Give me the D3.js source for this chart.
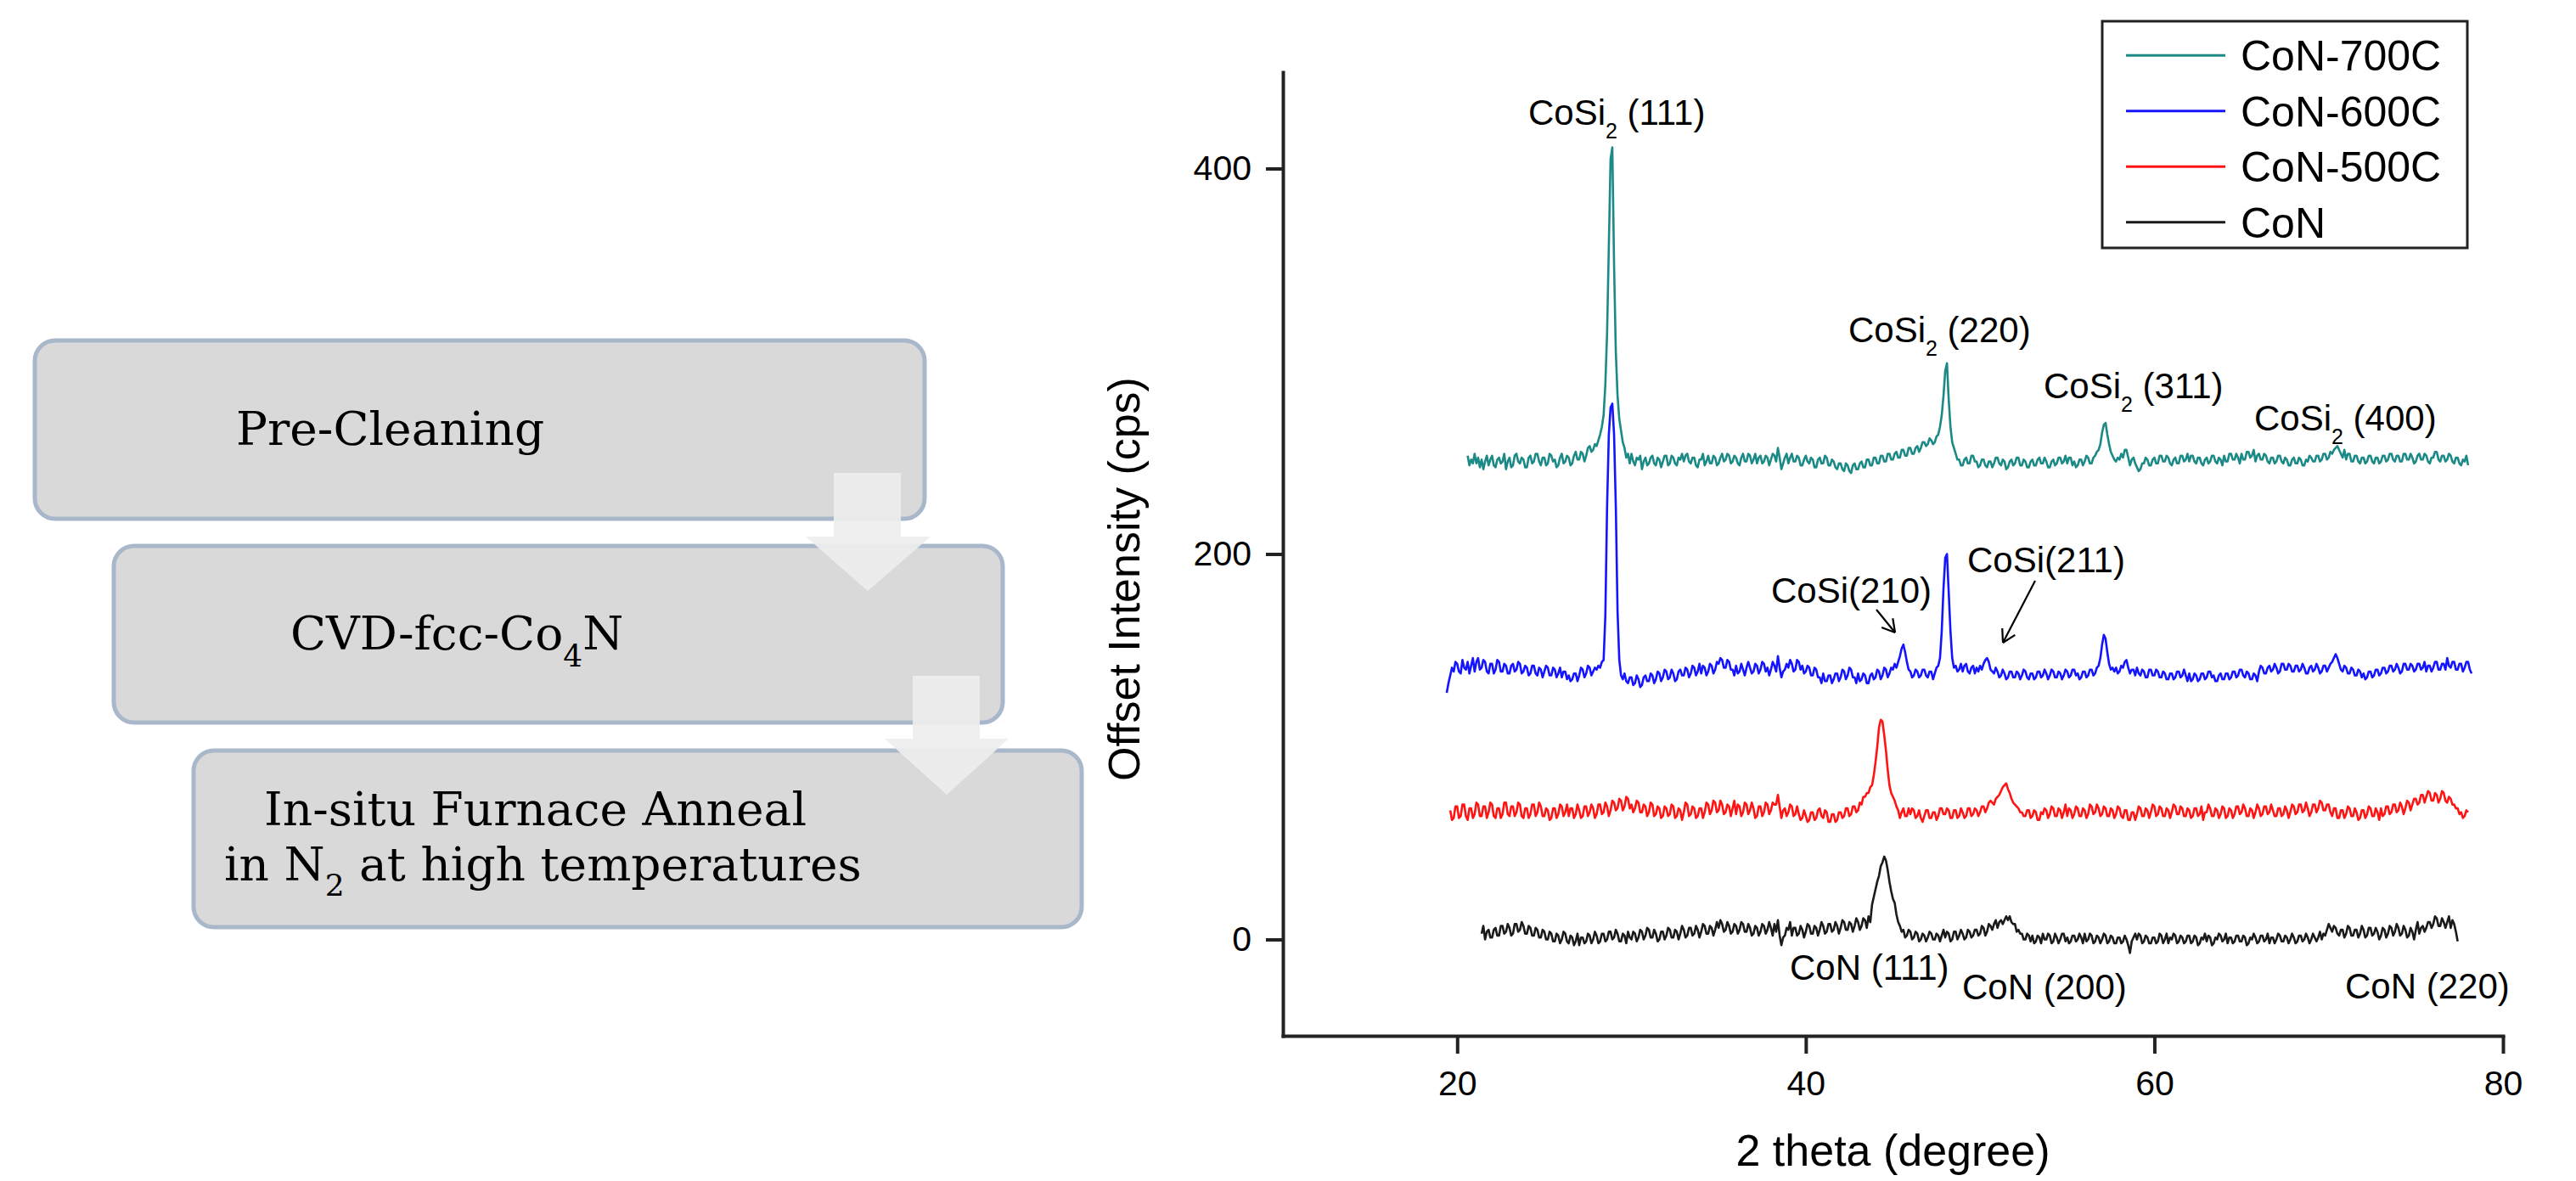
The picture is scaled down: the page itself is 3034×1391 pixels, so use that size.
<!DOCTYPE html>
<html><head><meta charset="utf-8">
<script src="https://cdn.jsdelivr.net/npm/d3@7"></script>
<style>html,body{margin:0;padding:0;background:#fff;}svg{display:block;}</style>
</head><body>
<svg id="chart" width="3034" height="1391"></svg>
<script>
// 2-theta scan grid (degree), one row per degree
const twoTheta = [
19.0,19.1,19.2,19.3,19.4,19.5,19.6,19.7,19.8,19.9,
20.0,20.1,20.2,20.3,20.4,20.5,20.6,20.7,20.8,20.9,
21.0,21.1,21.2,21.3,21.4,21.5,21.6,21.7,21.8,21.9,
22.0,22.1,22.2,22.3,22.4,22.5,22.6,22.7,22.8,22.9,
23.0,23.1,23.2,23.3,23.4,23.5,23.6,23.7,23.8,23.9,
24.0,24.1,24.2,24.3,24.4,24.5,24.6,24.7,24.8,24.9,
25.0,25.1,25.2,25.3,25.4,25.5,25.6,25.7,25.8,25.9,
26.0,26.1,26.2,26.3,26.4,26.5,26.6,26.7,26.8,26.9,
27.0,27.1,27.2,27.3,27.4,27.5,27.6,27.7,27.8,27.9,
28.0,28.1,28.2,28.3,28.4,28.5,28.6,28.7,28.8,28.9,
29.0,29.1,29.2,29.3,29.4,29.5,29.6,29.7,29.8,29.9,
30.0,30.1,30.2,30.3,30.4,30.5,30.6,30.7,30.8,30.9,
31.0,31.1,31.2,31.3,31.4,31.5,31.6,31.7,31.8,31.9,
32.0,32.1,32.2,32.3,32.4,32.5,32.6,32.7,32.8,32.9,
33.0,33.1,33.2,33.3,33.4,33.5,33.6,33.7,33.8,33.9,
34.0,34.1,34.2,34.3,34.4,34.5,34.6,34.7,34.8,34.9,
35.0,35.1,35.2,35.3,35.4,35.5,35.6,35.7,35.8,35.9,
36.0,36.1,36.2,36.3,36.4,36.5,36.6,36.7,36.8,36.9,
37.0,37.1,37.2,37.3,37.4,37.5,37.6,37.7,37.8,37.9,
38.0,38.1,38.2,38.3,38.4,38.5,38.6,38.7,38.8,38.9,
39.0,39.1,39.2,39.3,39.4,39.5,39.6,39.7,39.8,39.9,
40.0,40.1,40.2,40.3,40.4,40.5,40.6,40.7,40.8,40.9,
41.0,41.1,41.2,41.3,41.4,41.5,41.6,41.7,41.8,41.9,
42.0,42.1,42.2,42.3,42.4,42.5,42.6,42.7,42.8,42.9,
43.0,43.1,43.2,43.3,43.4,43.5,43.6,43.7,43.8,43.9,
44.0,44.1,44.2,44.3,44.4,44.5,44.6,44.7,44.8,44.9,
45.0,45.1,45.2,45.3,45.4,45.5,45.6,45.7,45.8,45.9,
46.0,46.1,46.2,46.3,46.4,46.5,46.6,46.7,46.8,46.9,
47.0,47.1,47.2,47.3,47.4,47.5,47.6,47.7,47.8,47.9,
48.0,48.1,48.2,48.3,48.4,48.5,48.6,48.7,48.8,48.9,
49.0,49.1,49.2,49.3,49.4,49.5,49.6,49.7,49.8,49.9,
50.0,50.1,50.2,50.3,50.4,50.5,50.6,50.7,50.8,50.9,
51.0,51.1,51.2,51.3,51.4,51.5,51.6,51.7,51.8,51.9,
52.0,52.1,52.2,52.3,52.4,52.5,52.6,52.7,52.8,52.9,
53.0,53.1,53.2,53.3,53.4,53.5,53.6,53.7,53.8,53.9,
54.0,54.1,54.2,54.3,54.4,54.5,54.6,54.7,54.8,54.9,
55.0,55.1,55.2,55.3,55.4,55.5,55.6,55.7,55.8,55.9,
56.0,56.1,56.2,56.3,56.4,56.5,56.6,56.7,56.8,56.9,
57.0,57.1,57.2,57.3,57.4,57.5,57.6,57.7,57.8,57.9,
58.0,58.1,58.2,58.3,58.4,58.5,58.6,58.7,58.8,58.9,
59.0,59.1,59.2,59.3,59.4,59.5,59.6,59.7,59.8,59.9,
60.0,60.1,60.2,60.3,60.4,60.5,60.6,60.7,60.8,60.9,
61.0,61.1,61.2,61.3,61.4,61.5,61.6,61.7,61.8,61.9,
62.0,62.1,62.2,62.3,62.4,62.5,62.6,62.7,62.8,62.9,
63.0,63.1,63.2,63.3,63.4,63.5,63.6,63.7,63.8,63.9,
64.0,64.1,64.2,64.3,64.4,64.5,64.6,64.7,64.8,64.9,
65.0,65.1,65.2,65.3,65.4,65.5,65.6,65.7,65.8,65.9,
66.0,66.1,66.2,66.3,66.4,66.5,66.6,66.7,66.8,66.9,
67.0,67.1,67.2,67.3,67.4,67.5,67.6,67.7,67.8,67.9,
68.0,68.1,68.2,68.3,68.4,68.5,68.6,68.7,68.8,68.9,
69.0,69.1,69.2,69.3,69.4,69.5,69.6,69.7,69.8,69.9,
70.0,70.1,70.2,70.3,70.4,70.5,70.6,70.7,70.8,70.9,
71.0,71.1,71.2,71.3,71.4,71.5,71.6,71.7,71.8,71.9,
72.0,72.1,72.2,72.3,72.4,72.5,72.6,72.7,72.8,72.9,
73.0,73.1,73.2,73.3,73.4,73.5,73.6,73.7,73.8,73.9,
74.0,74.1,74.2,74.3,74.4,74.5,74.6,74.7,74.8,74.9,
75.0,75.1,75.2,75.3,75.4,75.5,75.6,75.7,75.8,75.9,
76.0,76.1,76.2,76.3,76.4,76.5,76.6,76.7,76.8,76.9,
77.0,77.1,77.2,77.3,77.4,77.5,77.6,77.7,77.8,77.9,
78.0,78.1,78.2
];
const n = null;
// Offset intensities (cps), one row per degree
const con700C = [
n,n,n,n,n,n,n,n,n,n,
n,n,n,n,n,n,251,246,249,247,
252,247,250,245,249,244,248,251,246,249,
251,246,245,249,250,247,248,252,244,248,
250,245,246,251,252,248,247,250,249,245,
245,250,251,247,248,252,252,248,246,250,
250,246,247,252,251,248,249,245,246,250,
252,247,248,251,250,246,247,251,253,249,
249,253,252,248,251,255,256,253,254,257,
256,259,262,266,272,288,315,360,405,411,
350,305,282,270,264,258,255,250,252,247,
252,248,246,250,249,251,244,248,250,246,
247,250,251,247,246,250,249,245,248,251,
251,246,247,251,250,247,246,250,249,252,
248,251,252,248,247,250,250,246,245,249,
249,252,246,248,251,247,247,251,250,246,
247,250,252,248,249,252,251,247,248,251,
250,247,246,250,252,248,248,252,251,247,
249,252,247,250,251,247,248,251,250,246,
249,252,251,248,255,250,244,247,250,252,
247,250,252,248,248,251,250,246,246,249,
251,248,247,250,249,245,245,249,250,247,
247,251,250,246,246,249,248,245,244,247,
247,244,243,247,246,243,242,246,247,244,
244,247,248,245,245,249,249,246,246,250,
250,247,247,251,251,248,248,252,252,249,
249,252,253,250,250,254,254,251,251,255,
255,252,252,255,256,253,255,258,258,256,
257,260,259,257,258,261,262,266,272,282,
295,299,280,266,258,255,252,249,249,246,
246,249,250,247,247,251,251,248,248,245,
246,249,249,246,245,248,248,245,247,250,
250,247,246,249,248,244,245,248,249,246,
247,250,250,246,246,249,248,245,245,248,
249,246,246,249,250,247,247,250,248,245,
245,248,249,246,247,250,250,247,248,251,
247,250,250,246,248,245,246,249,249,246,
248,251,250,247,247,250,251,253,254,257,
263,267,268,262,257,253,251,249,248,250,
249,252,250,254,254,250,246,249,250,247,
245,243,244,247,247,250,249,246,246,249,
250,247,247,251,251,248,248,251,250,247,
246,249,250,247,247,251,251,248,249,252,
248,251,251,248,247,250,250,247,246,249,
250,247,248,251,251,248,247,250,249,246,
251,248,248,252,252,249,249,252,250,247,
252,249,249,253,253,250,251,254,248,251,
252,249,249,252,251,248,247,250,250,247,
248,251,251,248,247,250,249,246,246,249,
250,247,247,250,249,246,246,249,248,251,
250,248,248,251,251,248,249,252,252,249,
250,253,252,254,255,256,254,252,250,254,
249,252,252,248,248,251,251,248,247,250,
250,247,248,251,251,248,247,250,250,247,
248,251,251,248,249,252,252,249,248,251,
251,248,248,252,252,249,249,252,250,247,
248,251,252,249,249,252,251,248,247,250,
250,253,253,249,248,251,251,248,249,252,
251,248,247,250,250,247,246,249,248,251,
246,n,n
];
const con600C = [
n,n,n,n,128,133,137,141,139,144,
143,139,138,145,141,140,144,138,142,146,
139,144,146,140,141,145,144,139,138,143,
143,138,140,145,144,139,139,143,142,138,
138,142,143,139,140,144,143,138,139,142,
141,137,138,142,142,138,137,141,140,136,
139,142,141,137,137,141,140,136,138,141,
136,139,139,135,137,134,135,138,138,134,
137,141,140,136,138,142,141,137,139,141,
140,142,141,144,145,168,225,262,276,278,
262,225,170,145,137,135,138,134,133,136,
136,132,133,137,135,131,132,136,137,134,
134,138,137,133,135,139,138,134,136,140,
139,135,136,140,138,134,135,139,140,137,
137,141,140,136,138,142,141,137,139,143,
138,142,141,137,139,143,142,138,140,144,
143,146,145,141,141,145,144,140,140,137,
142,138,139,143,140,137,141,144,141,138,
139,143,142,138,140,144,143,139,141,137,
140,144,142,139,147,141,136,139,140,143,
141,145,143,139,140,145,144,140,142,138,
139,142,141,137,137,141,140,136,136,133,
138,134,134,137,137,133,135,138,138,134,
136,140,139,135,137,141,140,136,136,133,
138,134,135,138,137,133,133,137,138,135,
136,140,139,135,137,141,140,136,138,141,
140,143,141,144,147,151,153,149,144,140,
139,136,137,140,139,136,137,140,140,137,
136,139,139,135,138,141,142,146,160,182,
198,200,180,160,146,141,142,139,140,143,
139,142,143,139,138,141,142,138,141,139,
142,140,143,145,146,144,140,139,138,141,
139,136,137,140,138,135,136,139,139,136,
136,139,138,135,137,140,139,136,135,138,
138,135,136,139,139,136,137,140,138,135,
137,140,139,136,136,139,138,135,137,140,
139,136,137,140,140,137,138,135,136,139,
139,136,137,140,140,137,138,141,142,146,
153,158,156,149,143,140,141,139,141,138,
139,142,141,144,145,141,138,140,140,137,
141,138,137,140,139,136,136,140,140,137,
137,140,139,136,136,139,138,135,135,138,
138,135,136,139,139,136,137,140,137,134,
138,134,135,138,137,134,135,138,138,135,
136,139,139,136,137,134,134,137,138,135,
135,138,138,135,136,139,139,136,137,140,
140,137,136,139,138,135,135,138,137,134,
139,142,141,138,138,141,142,139,140,143,
141,138,139,143,143,140,140,143,142,139,
139,142,142,139,140,143,141,138,138,141,
142,139,140,143,141,138,139,142,142,139,
141,143,144,146,148,146,143,140,139,142,
141,138,138,141,140,137,137,140,139,136,
138,135,136,139,139,136,137,140,140,137,
138,141,141,138,139,142,142,139,140,143,
141,138,139,143,143,140,140,143,142,139,
140,143,143,140,141,144,139,142,142,139,
141,144,144,140,140,143,143,140,146,142,
141,144,144,140,140,143,143,139,141,144,
144,140,138
];
const con500C = [
n,n,n,n,n,n,67,62,63,69,
69,63,64,70,70,64,62,68,68,63,
65,71,70,64,64,69,69,63,66,71,
70,64,63,68,68,63,65,71,71,65,
64,69,69,64,66,71,70,64,63,68,
68,63,65,70,70,64,66,71,69,64,
64,68,67,62,63,68,68,63,65,70,
69,64,66,70,64,68,68,63,65,70,
67,63,64,69,69,64,66,70,68,63,
65,70,70,65,66,71,69,64,67,72,
71,67,68,73,72,67,69,74,73,68,
70,66,68,72,71,66,66,70,69,64,
66,71,70,64,65,69,68,63,64,69,
68,64,65,70,69,63,64,68,67,62,
66,71,70,64,65,69,68,63,64,68,
68,63,66,71,70,65,67,72,71,66,
67,72,70,65,66,70,69,64,68,72,
65,70,69,64,66,71,70,65,67,71,
68,63,64,69,69,64,66,71,70,65,
67,71,70,70,75,69,63,67,68,64,
66,70,69,64,65,69,65,62,63,67,
64,61,62,66,66,62,63,67,68,64,
63,67,66,61,61,65,65,61,62,66,
66,63,64,68,68,64,65,69,69,66,
67,71,70,74,74,76,76,79,80,85,
92,100,110,114,113,106,98,88,80,76,
74,72,69,67,63,66,68,64,64,68,
65,68,67,63,64,67,63,61,64,67,
67,63,63,66,66,62,64,68,68,65,
65,68,67,63,63,67,67,63,64,68,
66,63,64,68,68,64,65,68,67,64,
66,69,69,66,68,71,72,71,70,73,
74,75,77,79,80,81,78,76,73,71,
70,69,68,66,66,64,64,67,67,63,
64,67,66,62,62,66,65,68,67,63,
65,69,68,64,64,68,67,63,66,70,
64,68,67,63,65,69,68,64,64,68,
67,63,65,70,69,65,66,70,68,64,
65,69,68,64,64,68,67,63,65,69,
68,64,63,67,67,62,62,66,66,62,
65,69,68,64,64,68,67,63,66,70,
69,64,65,69,68,64,64,68,67,63,
66,70,69,65,65,69,68,64,64,68,
67,63,64,68,68,64,65,69,62,66,
66,70,68,64,64,68,67,63,65,69,
68,63,64,68,67,63,65,69,69,65,
66,70,68,64,64,68,67,63,66,70,
68,64,65,69,69,65,66,70,67,64,
64,68,68,64,65,69,67,63,66,70,
69,65,66,70,70,66,67,71,68,64,
66,70,70,66,68,72,71,67,67,70,
70,66,64,68,68,63,63,67,67,63,
65,69,68,64,64,68,66,62,63,67,
67,63,65,69,68,64,64,68,66,62,
68,64,65,69,69,65,66,70,70,66,
67,71,69,65,68,72,71,67,70,73,
73,70,71,75,75,71,74,77,76,72,
72,76,75,71,73,77,76,72,71,74,
73,70,70,68,68,65,66,63,64,67,
66,n,n
];
const conAsDep = [
n,n,n,n,n,n,n,n,n,n,
n,n,n,n,n,n,n,n,n,n,
n,n,n,n,3,7,0,4,5,1,
1,5,6,2,2,7,7,3,4,8,
6,2,3,8,8,4,5,9,7,3,
3,7,6,2,2,6,5,1,1,5,
4,0,0,4,3,-1,-1,3,2,-2,
0,4,3,-1,-2,2,1,-3,-1,3,
-3,1,1,-2,-1,3,2,-2,0,4,
2,-2,-1,3,3,-1,0,4,4,0,
1,5,3,-1,-1,3,2,-2,4,1,
0,4,3,-1,1,5,4,0,2,6,
5,1,1,5,3,-1,0,4,4,0,
2,6,5,1,1,5,4,0,3,7,
5,1,2,6,6,2,3,7,5,1,
4,8,7,3,3,7,6,2,5,9,
6,10,8,4,5,9,7,3,4,8,
7,3,5,9,8,4,4,8,6,2,
3,7,6,2,4,8,7,3,5,9,
6,2,8,4,10,2,-3,1,2,6,
5,9,2,6,6,2,3,7,5,1,
4,8,7,3,3,7,6,2,5,9,
7,3,4,8,8,4,5,9,7,3,
6,10,9,5,5,9,8,4,7,11,
9,5,7,11,10,6,12,9,18,22,
26,30,33,38,40,43,41,36,30,25,
21,19,13,9,7,4,5,1,2,5,
4,0,1,4,3,-1,0,3,2,-1,
1,4,3,0,0,3,2,-1,2,5,
1,4,3,-1,0,4,4,0,2,5,
3,0,1,5,4,1,2,5,5,2,
3,7,6,2,4,8,7,5,8,10,
6,9,10,8,10,12,10,12,9,8,
8,4,5,3,3,0,0,3,2,-1,
2,-2,-1,2,1,-2,3,0,0,3,
2,-2,-1,3,1,-2,0,3,3,-1,
1,-2,-1,2,2,-1,0,3,1,-2,
3,-1,0,3,2,-2,-1,2,1,-2,
0,3,2,-2,-1,2,1,-2,-2,1,
1,-2,-1,2,0,-3,-7,-1,1,3,
0,3,2,-2,-1,2,1,-2,-2,1,
1,-2,-1,3,2,-2,0,3,-2,1,
0,3,2,-2,-1,2,1,-2,-1,2,
2,-2,-1,2,1,-3,-2,1,0,3,
-1,2,1,-3,-2,1,0,3,2,-1,
0,3,-2,1,1,-2,-1,2,2,-1,
-1,2,1,-3,-2,1,0,3,1,-2,
-1,2,2,-1,0,3,-2,1,1,-2,
0,3,2,-1,-1,2,1,-2,0,3,
1,-2,-1,2,2,-1,0,3,1,-2,
0,3,1,-1,1,4,0,3,2,5,
8,6,4,7,6,3,2,5,5,1,
3,7,6,2,2,5,5,1,3,7,
5,1,2,6,6,2,3,6,4,0,
2,6,5,1,3,7,6,2,4,8,
6,2,3,7,5,1,2,6,4,0,
5,9,3,6,7,4,6,9,9,6,
8,12,11,7,7,11,9,6,9,12,
6,10,8,4,-1,n,n,n,n,n,
n,n,n
];
const seriesNames = ["CoN-700C", "CoN-600C", "CoN-500C", "CoN"];
const seriesColors = ["#1b8a86", "#1414ff", "#ff1414", "#1a1a1a"];
const seriesValues = [con700C, con600C, con500C, conAsDep];
const xTickValues = [20, 40, 60, 80];
const xMinorTickValues = [10, 30, 50, 70];
const yTickValues = [0, 200, 400];
const yMinorTickValues = [100, 300];
const flowSteps = ["Pre-Cleaning", "CVD-fcc-Co", "In-situ Furnace Anneal"];

const svg = d3.select("#chart");
svg.append("rect").attr("width", 3034).attr("height", 1391).attr("fill", "#fff");

// ---------- Flow chart (left) ----------
const boxes = [
  {x: 41, y: 401, w: 1048, h: 210},
  {x: 134, y: 643, w: 1047, h: 208},
  {x: 228, y: 884, w: 1046, h: 208}
];
const flow = svg.append("g");
flow.selectAll("rect.box").data(boxes).join("rect")
  .attr("class", "box")
  .attr("x", d => d.x).attr("y", d => d.y).attr("width", d => d.w).attr("height", d => d.h)
  .attr("rx", 24).attr("ry", 24)
  .attr("fill", "#d9d9d9").attr("stroke", "#a8b7c9").attr("stroke-width", 5);

const blockArrows = [
  {sx0: 982, sx1: 1061, top: 557, hy: 632, hx0: 949, hx1: 1096, tipx: 1022, tipy: 696},
  {sx0: 1075, sx1: 1154, top: 796, hy: 870, hx0: 1042, hx1: 1188, tipx: 1115, tipy: 936}
];
flow.selectAll("path.barrow").data(blockArrows).join("path")
  .attr("class", "barrow")
  .attr("d", a => `M${a.sx0},${a.top}L${a.sx1},${a.top}L${a.sx1},${a.hy}L${a.hx1},${a.hy}L${a.tipx},${a.tipy}L${a.hx0},${a.hy}L${a.sx0},${a.hy}Z`)
  .attr("fill", "#eeeeee").attr("fill-opacity", 0.92);

const serif = "'DejaVu Serif','Liberation Serif',serif";
function flowText(x, y) {
  return flow.append("text").attr("x", x).attr("y", y)
    .attr("font-family", serif).attr("font-size", 55).attr("fill", "#000");
}
flowText(278, 524).text(flowSteps[0]);
const t2 = flowText(342, 765);
t2.append("tspan").text(flowSteps[1]);
t2.append("tspan").attr("font-size", 36).attr("dy", 20).text("4");
t2.append("tspan").attr("dy", -20).text("N");
flowText(311, 972).text(flowSteps[2]);
const t4 = flowText(264, 1037);
t4.append("tspan").text("in N");
t4.append("tspan").attr("font-size", 36).attr("dy", 18).text("2");
t4.append("tspan").attr("dy", -18).text(" at high temperatures");

// ---------- XRD chart (right) ----------
const sans = "'Liberation Sans',Arial,Helvetica,sans-serif";
const x = d3.scaleLinear().domain([10, 80]).range([1511, 2948]);
const y = d3.scaleLinear().domain([-50, 450]).range([1220, 85]);
const axisColor = "#222";

const gx = svg.append("g").attr("transform", "translate(0,1220)");
gx.call(d3.axisBottom(x).tickValues(xMinorTickValues).tickSize(11).tickSizeOuter(0).tickFormat(""));
gx.call(d3.axisBottom(x).tickValues(xTickValues).tickSize(21).tickSizeOuter(0).tickPadding(20).tickFormat(d3.format("d")));
gx.selectAll("path.domain").attr("stroke", axisColor).attr("stroke-width", 4).attr("stroke-linecap", "square");
gx.selectAll(".tick line").attr("stroke", axisColor).attr("stroke-width", 4);
gx.selectAll(".tick text").attr("font-family", sans).attr("font-size", 41).attr("fill", "#000");

const gy = svg.append("g").attr("transform", "translate(1511,0)");
gy.call(d3.axisLeft(y).tickValues(yMinorTickValues).tickSize(9).tickSizeOuter(0).tickFormat(""));
gy.call(d3.axisLeft(y).tickValues(yTickValues).tickSize(20).tickSizeOuter(0).tickPadding(17).tickFormat(d3.format("d")));
gy.selectAll("path.domain").attr("stroke", axisColor).attr("stroke-width", 4).attr("stroke-linecap", "square");
gy.selectAll(".tick line").attr("stroke", axisColor).attr("stroke-width", 4);
gy.selectAll(".tick text").attr("font-family", sans).attr("font-size", 41).attr("fill", "#000");

// axis titles
svg.append("text").attr("x", x(45)).attr("y", 1373).attr("text-anchor", "middle")
  .attr("font-family", sans).attr("font-size", 52).text("2 theta (degree)");
svg.append("text").attr("transform", "translate(1342,682) rotate(-90)").attr("text-anchor", "middle")
  .attr("font-family", sans).attr("font-size", 52).text("Offset Intensity (cps)");

// traces
const line = d3.line()
  .defined(d => d[1] !== null)
  .x(d => x(d[0])).y(d => y(d[1]));
const traces = svg.append("g");
seriesValues.forEach((vals, i) => {
  const pts = twoTheta.map((t, k) => [t, vals[k] === undefined ? null : vals[k]]);
  traces.append("path").datum(pts)
    .attr("d", line).attr("fill", "none")
    .attr("stroke", seriesColors[i]).attr("stroke-width", 2.6)
    .attr("stroke-linejoin", "round");
});

// peak annotations
const annots = [
  {x: 1800, y: 147, main: "CoSi", sub: "2", rest: " (111)"},
  {x: 2177, y: 403, main: "CoSi", sub: "2", rest: " (220)"},
  {x: 2407, y: 469, main: "CoSi", sub: "2", rest: " (311)"},
  {x: 2655, y: 507, main: "CoSi", sub: "2", rest: " (400)"},
  {x: 2086, y: 710, main: "CoSi(210)"},
  {x: 2317, y: 674, main: "CoSi(211)"},
  {x: 2108, y: 1154, main: "CoN (111)"},
  {x: 2311, y: 1177, main: "CoN (200)"},
  {x: 2762, y: 1176, main: "CoN (220)"}
];
annots.forEach(a => {
  const t = svg.append("text").attr("x", a.x).attr("y", a.y)
    .attr("font-family", sans).attr("font-size", 42).attr("fill", "#000");
  t.append("tspan").text(a.main);
  if (a.sub) {
    t.append("tspan").attr("font-size", 25).attr("dy", 16).text(a.sub);
    t.append("tspan").attr("dy", -16).text(a.rest);
  }
});
const pointers = [
  {x1: 2210, y1: 718, x2: 2232, y2: 745},
  {x1: 2397, y1: 684, x2: 2359, y2: 757}
];
pointers.forEach(p => {
  const g = svg.append("g").attr("stroke", "#000").attr("stroke-width", 2.2).attr("fill", "none");
  g.append("line").attr("x1", p.x1).attr("y1", p.y1).attr("x2", p.x2).attr("y2", p.y2);
  const ang = Math.atan2(p.y1 - p.y2, p.x1 - p.x2);
  const L = 17, spread = Math.PI / 6;
  [ang - spread, ang + spread].forEach(a2 => {
    g.append("line").attr("x1", p.x2).attr("y1", p.y2)
      .attr("x2", p.x2 + L * Math.cos(a2)).attr("y2", p.y2 + L * Math.sin(a2));
  });
});

// legend
const legend = svg.append("g");
legend.append("rect").attr("x", 2476).attr("y", 25).attr("width", 430).attr("height", 267)
  .attr("fill", "#fff").attr("stroke", "#222").attr("stroke-width", 3);
const rows = legend.selectAll("g.row").data(seriesNames).join("g")
  .attr("transform", (d, i) => `translate(0,${65.2 + i * 65.5})`);
rows.append("line").attr("x1", 2504).attr("x2", 2621).attr("y1", 0).attr("y2", 0)
  .attr("stroke", (d, i) => seriesColors[i]).attr("stroke-width", 3);
rows.append("text").attr("x", 2639).attr("y", 18).attr("font-family", sans)
  .attr("font-size", 50).attr("fill", "#000").text(d => d);
</script>
</body></html>
